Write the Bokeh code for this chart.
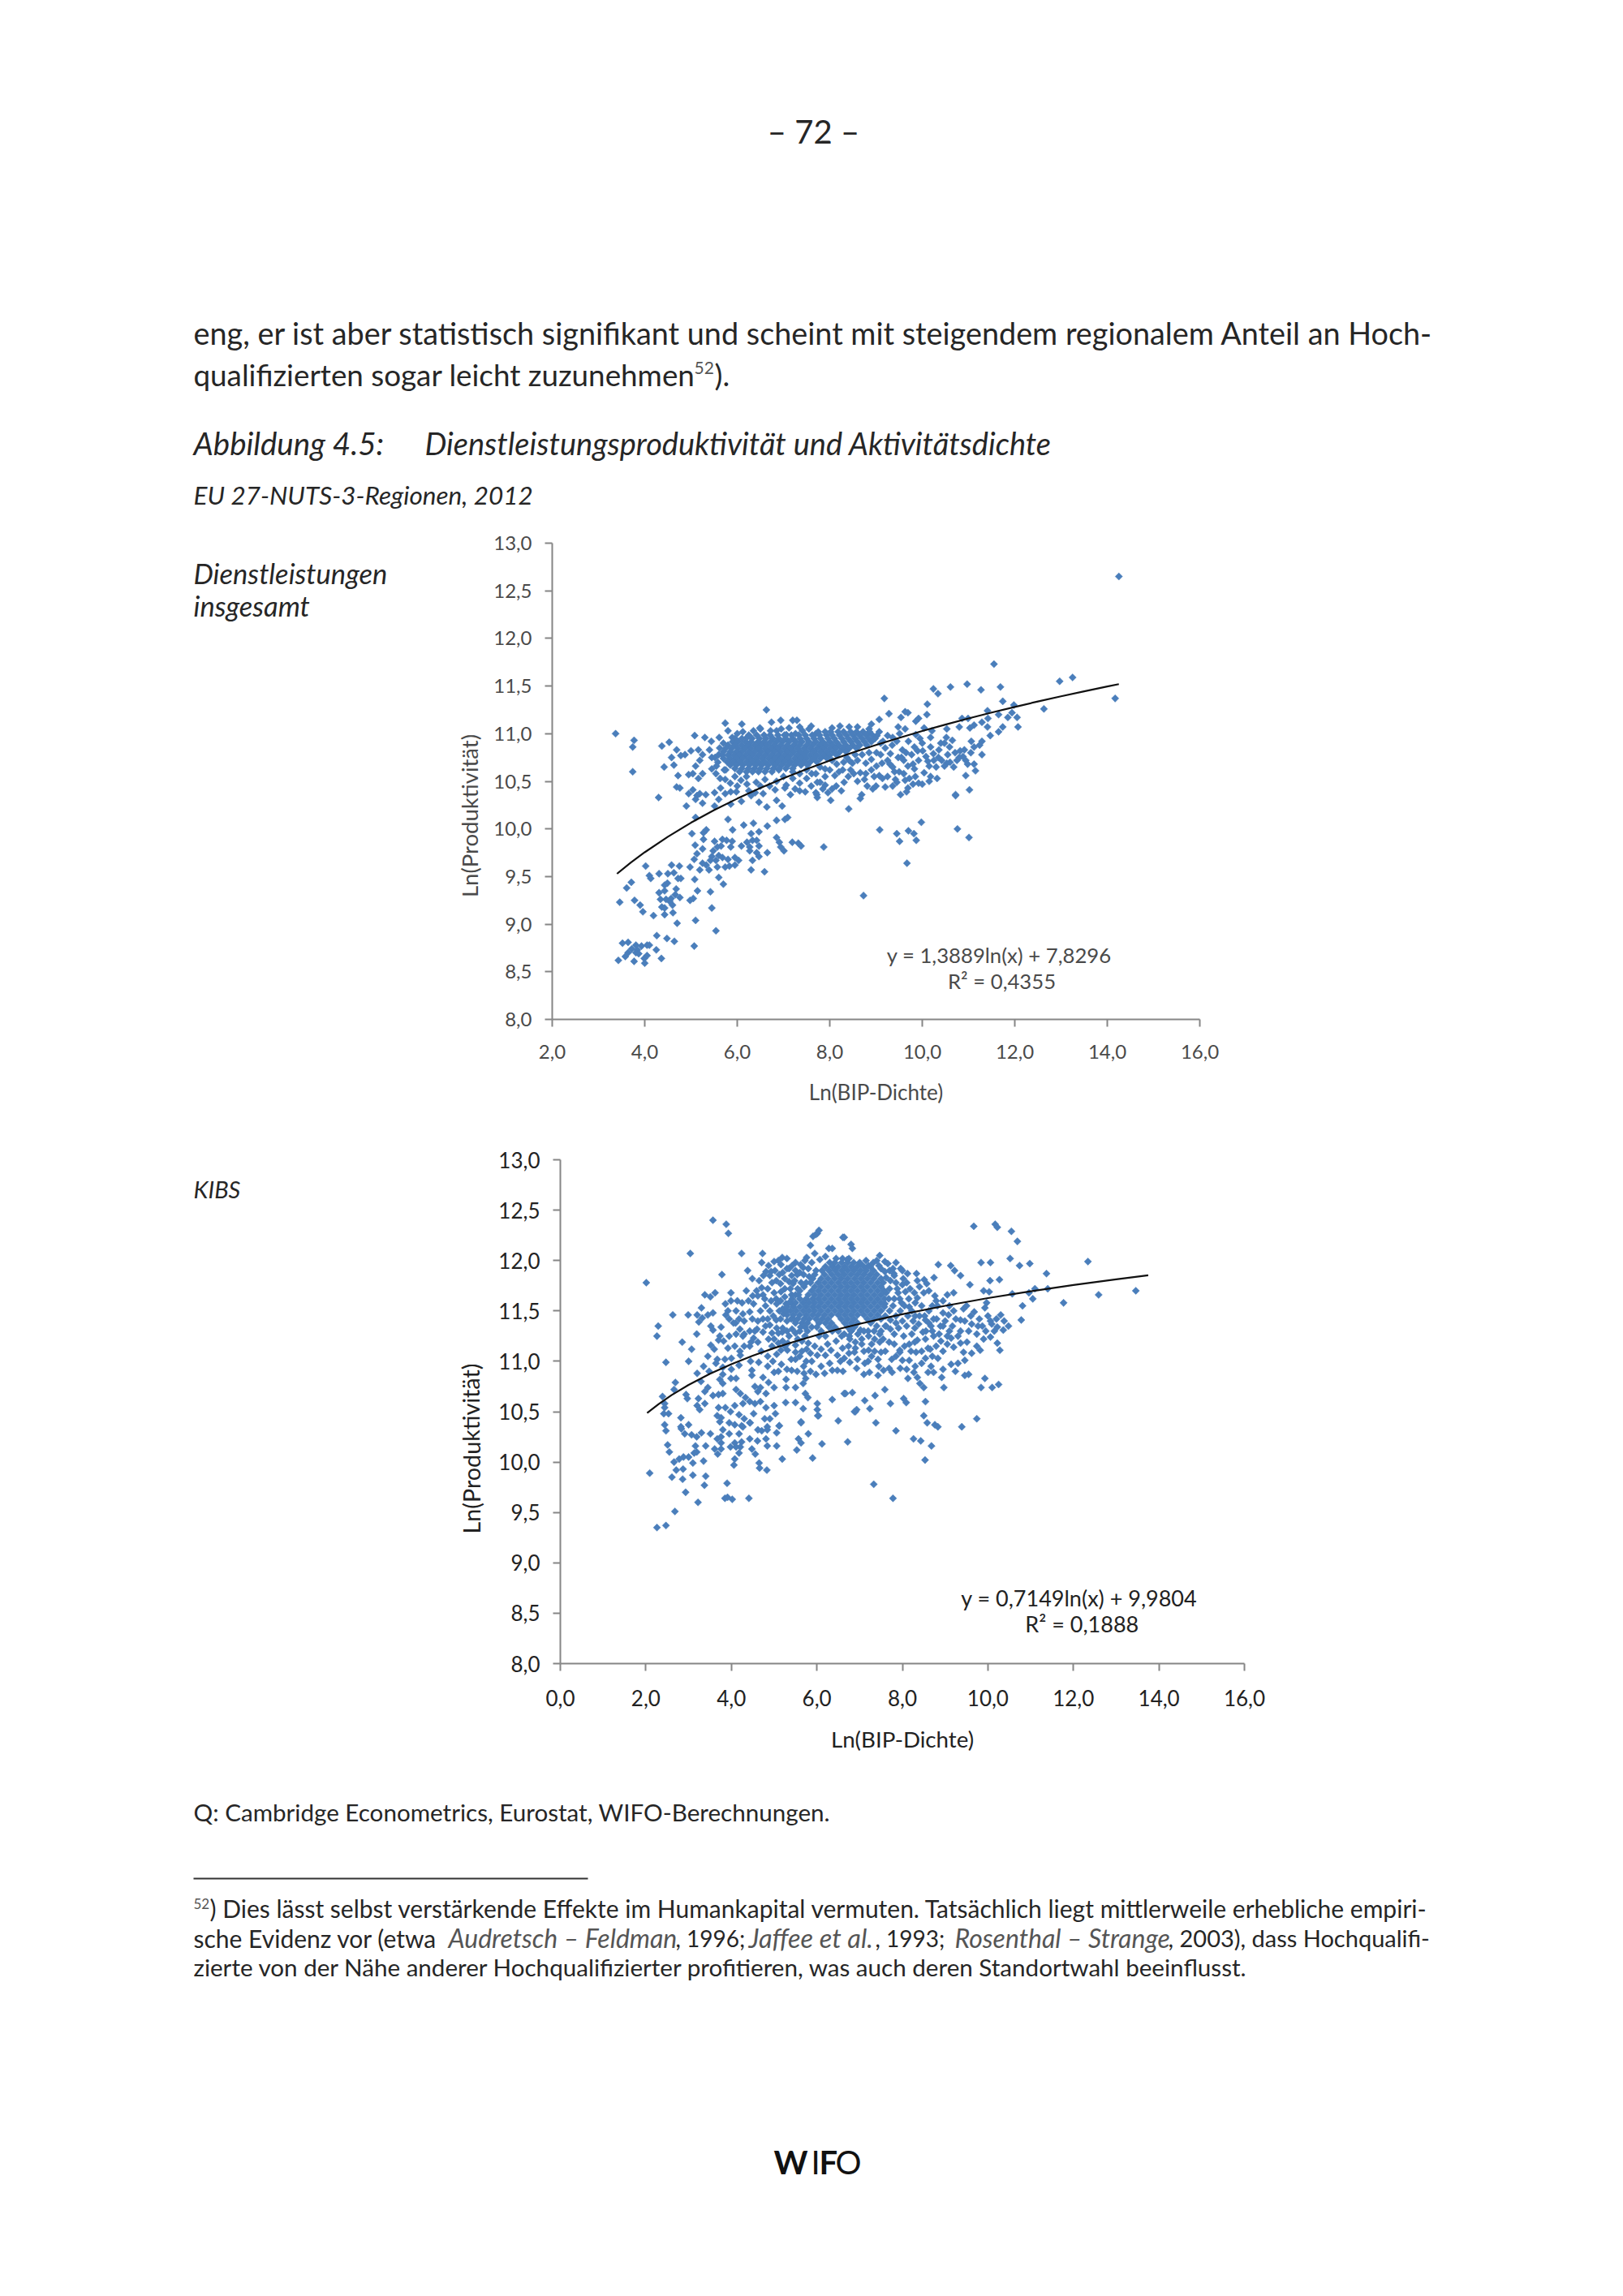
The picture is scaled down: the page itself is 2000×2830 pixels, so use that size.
from bokeh.plotting import figure
from bokeh.layouts import column, row
from bokeh.models import Range1d, FixedTicker
from bokeh.core.properties import value
from bokeh.embed import file_html
from bokeh.resources import INLINE

# ---------- data: upper chart (Dienstleistungen insgesamt) ----------
c1_far = [(14.25,12.65),(14.17,11.37),(13.25,11.59),(12.97,11.55),(12.63,11.26),(11.55,11.73),(11.98,11.3),(11.27,11.46),(10.97,11.52),(10.61,11.49),(10.24,11.47),(10.34,11.42),(10.11,11.31),(9.18,11.37),(11.02,10.41),(10.72,10.35),(10.76,10.0),(11.01,9.91),(9.98,10.07),(9.7,9.98),(9.08,9.99),(9.45,9.95),(9.51,9.87),(9.82,9.95),(9.87,9.88),(9.67,9.64),(8.73,9.3)]
c1_right = [(9.28,11.21),(9.07,11.15),(9.63,11.23),(9.54,11.17),(9.69,11.22),(9.92,11.16),(9.86,11.13),(10.1,11.2),(11.69,11.49),(11.74,11.34),(11.41,11.24),(11.65,11.2),(11.42,11.16),(11.85,11.17),(12.05,11.17),(11.94,11.22),(12.07,11.07),(11.74,11.07),(11.65,11.02),(11.41,11.07),(11.47,10.98),(11.29,11.12),(11.12,11.09),(11.03,11.06),(10.86,11.16),(10.99,11.16),(10.8,11.07),(10.53,11.05),(10.52,10.96),(10.04,11.06),(10.21,11.03),(10.18,10.96),(9.63,11.05),(9.48,11.07),(9.51,11.0),(9.25,10.98),(9.36,10.96),(9.86,10.99),(9.95,10.95),(11.29,10.92),(11.24,10.88),(11.06,10.92),(11.12,10.86),(11.29,10.78),(10.91,10.83),(10.94,10.72),(10.8,10.75),(10.65,10.93),(10.59,10.86),(10.71,10.8),(10.48,10.9),(10.53,10.69),(10.42,10.72),(10.3,10.65),(10.48,10.66),(10.36,10.83),(10.18,10.86),(10.24,10.79),(10.12,10.71),(10.01,10.82),(10.04,10.59),(9.83,10.86),(9.77,10.78),(9.92,10.72),(9.83,10.63),(9.69,10.66),(9.57,10.83),(9.48,10.75),(9.36,10.65),(9.6,10.72),(9.31,10.79),(9.13,10.69),(9.01,10.66),(9.25,10.72),(9.01,10.8),(8.9,10.73),(8.78,10.69),(8.6,10.72),(8.49,10.69),(8.37,10.75),(8.66,10.59),(8.52,10.58),(8.28,10.62),(9.07,10.56),(8.96,10.55),(9.14,10.53),(8.78,10.58),(8.75,10.52),(8.81,10.45),(8.11,10.56),(8.31,10.49),(7.9,10.63),(7.79,10.65),(7.61,10.58),(7.79,10.49),(7.9,10.46),(8.14,10.45),(8.05,10.42),(7.96,10.38),(7.7,10.38),(7.73,10.33),(8.02,10.3),(8.41,10.21),(8.69,10.36),(8.66,10.32),(8.93,10.42),(9.2,10.44),(9.36,10.45),(9.45,10.49),(9.42,10.52),(9.53,10.36),(9.69,10.43),(9.66,10.39),(9.72,10.53),(9.63,10.51),(9.8,10.47),(9.92,10.48),(10.18,10.55),(10.32,10.53),(10.94,10.56),(11.15,10.61),(11.12,10.68),(10.72,10.36)]
c1_extra = [(9.1,10.78),(9.2,10.85),(9.15,10.92),(9.35,10.88),(9.45,10.92),(9.55,10.75),(9.65,10.8),(9.7,10.92),(9.8,10.68),(9.9,10.82),(10.0,10.9),(10.08,10.76),(10.15,10.66),(10.25,10.72),(10.35,10.75),(10.4,10.9),(10.55,10.78),(10.6,10.7),(10.68,10.65),(10.75,10.72),(10.82,10.82),(10.88,10.76),(10.98,10.68),(11.05,10.8),(9.3,10.68),(9.4,10.6),(9.5,10.6),(9.25,10.55),(9.6,10.58),(9.85,10.55),(10.15,10.5),(10.0,10.47),(8.9,10.62),(8.7,10.78),(8.85,10.8),(8.55,10.78),(8.42,10.72),(8.3,10.7),(8.15,10.68),(8.05,10.72),(8.2,10.6),(8.4,10.55),(8.6,10.5),(8.45,10.62),(8.0,10.62),(7.9,10.55),(7.7,10.58),(7.5,10.62),(7.35,10.58),(7.2,10.6),(7.0,10.55),(6.85,10.5),(6.6,10.52),(6.9,10.62),(6.2,10.55),(6.0,10.45),(5.95,10.55),(5.85,10.48),(5.75,10.62),(6.3,10.35),(6.5,10.45),(6.7,10.45),(6.25,10.4),(7.25,10.42),(7.6,10.45),(7.85,10.42),(8.25,10.4),(9.0,10.45)]
c1_left = [(3.37,11.0),(3.77,10.93),(3.74,10.86),(3.74,10.6),(4.37,10.87),(4.53,10.91),(4.42,10.65),(4.3,10.33),(4.69,10.83),(4.58,10.75),(4.78,10.77),(4.87,10.78),(5.0,10.82),(4.63,10.67),(4.72,10.56),(5.08,10.98),(5.3,10.96),(5.44,10.92),(5.4,10.83),(5.16,10.83),(5.25,10.78),(5.19,10.72),(5.1,10.66),(5.45,10.75),(5.52,10.75),(4.95,10.57),(5.04,10.58),(5.16,10.53),(5.25,10.58),(5.45,10.63),(5.54,10.58),(5.63,10.53),(5.74,10.52),(4.69,10.44),(4.76,10.43),(4.95,10.37),(5.04,10.41),(5.13,10.35),(5.19,10.37),(5.25,10.27),(5.32,10.36),(5.51,10.38),(5.64,10.43),(5.1,10.31),(4.9,10.24),(5.51,10.24),(5.6,10.31),(5.74,10.37),(5.86,10.39),(5.98,10.39),(6.09,10.29),(5.86,10.26),(6.08,10.51),(6.21,10.47),(6.41,10.49),(6.39,10.38),(6.56,10.37),(6.47,10.28),(6.64,10.23),(6.82,10.41),(6.85,10.3),(6.97,10.24),(7.03,10.43),(7.15,10.36),(7.06,10.46),(7.35,10.4),(7.47,10.39),(7.73,10.49),(7.72,10.36),(7.5,10.53),(7.2,10.53),(7.35,10.48),(7.03,10.1),(5.8,10.1)]
c1_top = [(6.63,11.25),(5.74,11.11),(6.1,11.1),(6.49,11.06),(6.74,11.12),(6.94,11.14),(7.2,11.14),(7.29,11.14),(7.6,11.08),(5.8,11.03),(5.89,10.96),(5.61,10.96),(6.21,10.96),(6.5,11.05),(6.72,11.03),(6.85,11.03),(7.06,10.99),(7.41,11.03),(7.26,11.0),(7.7,11.0),(8.42,11.07),(8.05,11.06),(8.22,11.08),(8.6,11.07),(8.85,11.05),(9.07,11.02),(5.6,10.78),(5.58,10.7),(5.62,10.85),(5.72,10.62),(5.55,10.66),(5.7,10.9),(6.0,11.0),(6.12,11.02),(6.35,11.03),(6.95,11.05),(7.12,11.06),(7.55,11.05),(7.35,11.07),(8.9,11.1),(9.02,10.98),(9.1,10.9)]
c1_low_a = [(5.1,10.12),(6.14,10.04),(6.35,10.06),(6.65,10.03),(6.85,10.09),(7.09,10.12),(5.9,9.99),(6.47,9.97),(6.3,9.95),(5.02,9.95),(5.33,9.99),(5.27,9.96),(5.27,9.89),(5.09,9.83),(5.25,9.79),(5.13,9.74),(5.07,9.68),(4.98,9.6),(5.51,9.87),(5.57,9.81),(5.68,9.89),(5.77,9.88),(5.89,9.87),(5.65,9.82),(5.86,9.81),(5.45,9.71),(5.42,9.67),(5.33,9.62),(5.25,9.64),(5.19,9.57),(5.39,9.57),(5.57,9.6),(5.74,9.6),(5.83,9.61),(5.95,9.62),(6.03,9.67),(5.95,9.7),(5.8,9.68),(5.68,9.7),(5.6,9.72),(5.54,9.67),(5.48,9.77),(6.09,9.82),(6.21,9.86),(6.33,9.88),(6.42,9.88),(6.47,9.82),(6.42,9.75),(6.47,9.71),(6.27,9.81),(6.27,9.77),(6.65,9.75),(6.33,9.67),(6.3,9.57),(6.59,9.55),(6.85,9.91),(6.91,9.86),(6.94,9.81),(7.01,9.77),(7.19,9.86),(7.32,9.85),(7.38,9.82),(7.87,9.81)]
c1_low_b = [(4.02,9.61),(4.31,9.53),(4.1,9.51),(4.13,9.48),(3.71,9.44),(3.61,9.38),(3.46,9.23),(3.78,9.25),(3.9,9.2),(3.96,9.13),(4.19,9.09),(4.58,9.62),(4.75,9.61),(4.63,9.54),(4.5,9.53),(4.72,9.48),(4.78,9.48),(4.49,9.43),(4.43,9.41),(4.31,9.33),(4.43,9.35),(4.68,9.37),(4.34,9.26),(4.46,9.26),(4.57,9.27),(4.66,9.31),(4.76,9.28),(4.54,9.24),(4.37,9.18),(4.43,9.17),(4.6,9.2),(4.43,9.1),(4.61,9.12),(4.7,9.01),(5.08,9.47),(5.14,9.35),(5.42,9.34),(5.6,9.49),(5.7,9.42),(4.98,9.25),(5.05,9.27),(5.45,9.17),(5.1,9.04),(5.54,8.93),(5.07,8.77),(4.26,8.88),(4.48,8.85),(4.64,8.82)]
c1_low_c = [(3.52,8.8),(3.64,8.81),(3.81,8.78),(3.93,8.77),(4.05,8.78),(4.1,8.78),(3.72,8.74),(3.84,8.73),(3.64,8.7),(3.81,8.7),(3.87,8.69),(3.58,8.66),(3.43,8.62),(3.77,8.61),(3.99,8.64),(4.05,8.67),(4.0,8.59),(4.25,8.73),(4.36,8.64)]
c1_dense_y = [11.02,10.985,10.95,10.915,10.88,10.845,10.81,10.775,10.74,10.705,10.67,10.635,10.6]
c1_dense_x = [
 [7.75,7.9,8.02,8.18,8.3,8.45,8.58,8.72,8.86],
 [6.25,6.42,6.58,6.71,6.88,7.02,7.17,7.33,7.47,7.62,7.78,7.93,8.05,8.21,8.36,8.5,8.64,8.79,8.92],
 [5.95,6.1,6.32,6.48,6.62,6.77,6.9,7.05,7.2,7.36,7.5,7.66,7.8,7.96,8.1,8.26,8.4,8.55,8.7,8.84,8.98],
 [5.9,6.02,6.18,6.3,6.45,6.58,6.72,6.85,6.98,7.12,7.27,7.4,7.55,7.7,7.85,8.0,8.14,8.3,8.46,8.6,8.75,8.9],
 [5.8,5.95,6.1,6.24,6.38,6.52,6.65,6.8,6.94,7.08,7.22,7.35,7.5,7.63,7.78,7.92,8.06,8.2,8.35,8.5,8.65,8.8],
 [5.75,5.88,6.02,6.17,6.3,6.45,6.6,6.73,6.87,7.02,7.15,7.3,7.44,7.58,7.72,7.85,8.0,8.13,8.28,8.42,8.58],
 [5.7,5.85,5.98,6.1,6.25,6.38,6.52,6.66,6.8,6.94,7.08,7.22,7.36,7.5,7.65,7.8,7.93,8.08,8.22,8.35],
 [5.68,5.8,5.93,6.05,6.18,6.32,6.46,6.6,6.74,6.88,7.02,7.15,7.3,7.43,7.58,7.72,7.87,8.0,8.15],
 [5.7,5.85,5.98,6.12,6.26,6.4,6.54,6.68,6.81,6.95,7.09,7.24,7.37,7.5,7.65,7.8,7.94],
 [5.78,5.92,6.05,6.2,6.33,6.46,6.6,6.75,6.88,7.02,7.16,7.3,7.44,7.58,7.72],
 [5.85,5.98,6.12,6.26,6.4,6.53,6.67,6.82,6.96,7.1,7.24,7.38,7.52],
 [5.95,6.1,6.24,6.37,6.5,6.64,6.78,6.9,7.05,7.2],
 [6.05,6.2,6.33,6.46,6.6,6.75],
]
c1_trend_x = [3.4,3.7,4,4.5,5,5.5,6,6.5,7,7.5,8,8.5,9,9.5,10,10.5,11,11.5,12,12.5,13,13.5,14,14.25]
c1_trend_y = [9.529,9.647,9.755,9.918,10.065,10.197,10.318,10.429,10.532,10.628,10.718,10.802,10.881,10.956,11.028,11.095,11.16,11.222,11.281,11.338,11.392,11.445,11.495,11.52]

# ---------- data: lower chart (KIBS) ----------
c2_upper_left = [(3.57,12.4),(3.88,12.36),(3.93,12.27),(3.04,12.07),(4.24,12.07),(3.78,11.86),(2.01,11.78),(4.73,12.07),(4.71,11.98),(4.38,11.9),(4.49,11.82),(3.99,11.68),(3.38,11.66),(3.51,11.64),(3.62,11.68),(3.3,11.53),(2.63,11.46),(2.99,11.46),(3.2,11.46),(3.57,11.48),(3.45,11.46),(3.32,11.43),(3.24,11.39),(2.29,11.35),(2.26,11.25),(2.85,11.19),(3.19,11.27),(3.07,11.12),(3.52,11.16),(3.0,11.0),(2.47,10.99),(3.52,11.35),(3.57,11.31),(3.76,11.34),(3.73,11.25),(3.7,11.21),(3.48,10.9),(3.67,11.02),(3.64,10.98),(3.8,10.94),(4.0,11.03),(3.92,11.13),(4.08,11.15),(4.11,11.27),(4.21,11.06),(4.18,10.96),(4.45,11.0),(4.64,10.99)]
c2_mid_left = [(3.86,11.57),(3.92,11.5),(3.87,11.46),(3.95,11.42),(4.05,11.38),(4.14,11.6),(4.11,11.5),(4.27,11.47),(4.3,11.4),(4.18,11.42),(3.99,11.6),(4.43,11.49),(4.52,11.57),(4.68,11.5),(4.49,11.42),(4.62,11.4),(4.74,11.42),(4.59,11.7),(4.71,11.73),(4.65,11.8),(4.62,11.65),(4.74,11.66),(5.0,11.68),(4.93,11.6),(5.06,11.57),(5.12,11.5),(4.87,11.95),(5.0,11.99),(5.19,12.03),(5.16,11.96),(4.93,11.89),(4.81,11.89),(5.12,11.86),(5.35,11.92),(5.25,11.82),(5.41,11.85),(5.62,11.96),(5.76,12.03),(5.95,12.07),(6.07,12.01),(6.2,12.04),(6.28,12.12),(6.36,12.12),(5.85,12.15),(5.91,12.24),(6.01,12.27),(6.05,12.3),(5.98,12.26),(6.61,12.23),(5.98,11.9),(5.54,11.86),(5.69,11.86),(5.82,11.84),(5.44,11.77),(5.63,11.78),(5.25,11.72),(5.41,11.66),(5.16,11.69),(5.25,11.64),(5.57,11.66),(5.28,11.57)]
c2_below = [(4.74,11.29),(4.43,11.3),(4.3,11.27),(4.52,11.23),(4.27,11.25),(4.43,11.15),(4.62,11.19),(4.46,11.19),(5.06,11.33),(5.19,11.29),(5.0,11.22),(5.35,11.25),(4.87,11.22),(5.06,11.07),(5.16,11.11),(4.97,11.0),(5.17,10.97),(5.31,11.11),(5.5,11.09),(5.5,11.02),(5.41,10.91),(5.54,10.9),(5.69,10.95),(5.88,11.0),(6.01,11.06),(5.95,11.15),(5.76,11.12),(6.2,11.06),(6.33,11.11),(6.48,11.06),(5.98,10.87),(6.18,10.88),(6.36,10.91),(6.48,10.91),(6.61,10.9),(5.0,10.89),(4.48,10.91),(4.48,10.86),(4.74,10.84),(4.87,10.79),(5.0,10.74),(5.28,10.82),(5.28,10.74),(5.5,10.74),(5.68,10.78),(5.74,10.83),(5.73,10.68),(5.79,10.64),(5.5,10.59),(5.27,10.59),(5.68,10.53),(6.01,10.58),(6.01,10.52),(6.04,10.46),(6.36,10.62),(6.5,10.41),(5.63,10.4),(6.64,10.68)]
c2_halo_left = [(4.8,11.55),(4.9,11.5),(4.98,11.45),(5.05,11.41),(5.15,11.42),(5.22,11.47),(5.3,11.4),(5.05,11.62),(5.15,11.6),(5.2,11.52),(5.3,11.5),(4.85,11.72),(4.95,11.78),(5.05,11.8),(5.15,11.77),(4.9,11.85),(5.02,11.9),(5.2,11.88),(5.3,11.92),(5.38,11.72),(5.48,11.8),(5.55,11.72),(5.68,11.93),(5.8,11.92),(5.88,11.98),(5.75,11.78),(5.5,11.98),(5.35,11.79),(4.8,11.35),(4.9,11.36),(5.2,11.33),(5.3,11.3),(5.42,11.32),(5.5,11.28),(5.55,11.22),(5.65,11.2),(5.8,11.18),(5.2,11.2),(5.32,11.18),(5.5,11.16),(5.65,11.1),(4.6,11.32),(4.55,11.3),(4.7,11.1),(4.85,11.05),(4.95,11.15),(5.1,11.18),(5.25,11.15),(5.4,11.02),(5.6,11.05),(5.75,11.0),(5.85,11.08),(6.1,11.12),(6.25,11.17),(6.45,11.2),(6.6,11.13),(4.85,10.95),(5.1,10.9),(5.3,10.92),(5.7,10.88),(5.85,10.9),(6.1,10.95),(6.3,10.98),(6.55,11.0),(4.2,11.1),(4.3,11.15),(3.85,11.02),(4.0,10.92)]
c2_halo_right = [(7.6,11.45),(7.7,11.5),(7.78,11.55),(7.85,11.45),(7.95,11.5),(8.05,11.55),(8.15,11.62),(8.22,11.5),(7.62,11.68),(7.7,11.72),(7.72,11.8),(7.68,11.62),(7.85,11.78),(7.9,11.68),(8.02,11.82),(8.1,11.78),(7.55,11.78),(7.62,11.83),(7.7,11.9),(7.85,11.98),(7.4,12.0),(7.32,11.98),(7.15,12.0),(7.6,11.35),(7.72,11.32),(7.85,11.38),(8.0,11.4),(8.1,11.35),(8.25,11.4),(8.4,11.45),(8.45,11.55),(8.62,11.5),(8.7,11.55),(8.55,11.3),(8.7,11.3),(8.8,11.42),(8.95,11.35),(9.1,11.3),(8.9,11.2),(7.4,11.35),(7.5,11.3),(7.55,11.22),(7.35,11.22),(7.2,11.3),(7.05,11.22),(6.9,11.13),(7.1,11.1),(7.35,11.1),(7.6,11.1),(7.85,11.05),(8.05,11.15),(8.2,11.1),(8.45,11.1),(8.6,11.13),(8.7,11.05),(8.95,11.1)]
c2_halo_extra = [(4.4,11.6),(4.5,11.65),(4.35,11.7),(4.25,11.58),(4.2,11.32),(4.1,11.38),(3.95,11.25),(3.82,11.2),(3.6,11.12),(3.45,11.05),(4.75,11.85),(4.78,11.62),(4.85,11.42),(5.1,12.0),(5.3,12.02),(5.42,11.95),(5.5,11.9),(5.72,12.0),(5.6,11.88),(5.4,11.58),(5.45,11.42),(5.62,11.34),(5.1,11.28),(4.95,11.28),(7.5,11.92),(7.66,11.97),(7.8,11.87),(7.96,11.92),(8.12,11.87),(8.18,11.72),(8.28,11.68),(8.35,11.8),(8.5,11.68),(8.62,11.7),(7.98,11.58),(8.3,11.45),(8.52,11.45),(8.62,11.38),(8.82,11.55),(8.95,11.6),(9.1,11.55),(9.0,11.4),(9.25,11.42),(9.3,11.25),(9.2,11.5),(9.55,11.3),(9.6,11.45),(9.5,11.55),(9.8,11.42),(9.95,11.3),(10.0,11.45),(10.15,11.3),(10.2,11.42),(9.62,11.08),(9.9,11.22),(8.45,10.98),(8.65,11.12),(8.3,10.95),(7.95,10.93),(8.1,10.92),(7.75,11.02),(7.45,10.95),(7.2,11.0),(6.95,11.02),(6.75,11.08),(3.2,10.88),(3.35,10.95)]
c2_low_a = [(2.69,10.79),(2.66,10.72),(2.39,10.65),(2.44,10.58),(2.44,10.54),(2.53,10.48),(2.42,10.48),(2.82,10.44),(2.44,10.37),(3.0,10.37),(2.82,10.35),(2.94,10.67),(2.97,10.63),(3.29,10.8),(3.45,10.74),(3.38,10.7),(3.8,10.87),(3.73,10.82),(3.8,10.78),(3.99,10.83),(4.11,10.83),(4.11,10.72),(4.21,10.68),(4.55,10.75),(4.68,10.74),(4.62,10.7),(4.81,10.68),(3.57,10.66),(3.7,10.67),(3.8,10.68),(3.23,10.63),(3.2,10.56),(3.38,10.58),(3.26,10.52),(3.7,10.54),(3.86,10.54),(3.76,10.44),(3.98,10.5),(4.08,10.56),(4.27,10.58),(4.18,10.47),(4.33,10.64),(4.43,10.6),(4.55,10.58),(4.68,10.6),(4.81,10.54),(4.52,10.48),(5.0,10.56),(5.03,10.48),(4.9,10.43),(4.78,10.43),(4.3,10.43),(4.43,10.39),(3.95,10.39),(4.08,10.37),(4.24,10.36),(5.12,10.36),(4.84,10.35)]
c2_low_b = [(2.47,10.31),(2.83,10.33),(2.91,10.28),(3.07,10.27),(3.19,10.25),(3.3,10.29),(3.51,10.28),(2.51,10.17),(2.55,10.1),(3.4,10.16),(3.16,10.16),(3.19,10.1),(3.13,10.09),(3.0,10.05),(2.88,10.05),(2.78,10.03),(2.66,10.0),(3.1,9.99),(3.35,10.01),(2.71,9.92),(2.87,9.93),(2.61,9.85),(2.86,9.83),(3.1,9.87),(3.4,9.86),(3.37,9.77),(2.09,9.89),(2.93,9.7),(3.22,9.6),(2.68,9.51),(2.47,9.37),(2.26,9.35),(3.9,9.79),(3.85,9.64),(3.91,9.65),(4.02,9.63),(4.41,9.64)]
c2_low_c = [(3.67,10.46),(3.73,10.4),(4.27,10.35),(3.8,10.32),(3.95,10.28),(4.18,10.28),(3.76,10.25),(3.67,10.23),(3.76,10.19),(3.61,10.13),(3.76,10.13),(3.68,10.08),(3.98,10.15),(4.08,10.19),(4.24,10.2),(4.11,10.15),(4.21,10.15),(4.18,10.09),(4.08,10.03),(4.06,9.97),(4.44,10.39),(4.62,10.32),(4.84,10.32),(4.71,10.31),(5.06,10.29),(5.12,10.36),(4.81,10.23),(4.43,10.23),(4.61,10.21),(4.84,10.16),(5.06,10.16),(4.48,10.13),(4.56,10.08),(4.65,9.99),(4.66,9.94),(4.83,9.92),(5.19,10.03),(5.63,10.39),(6.02,10.46),(5.8,10.28),(5.57,10.23),(5.63,10.19),(5.53,10.12),(6.12,10.18),(5.9,10.04)]
c2_low_right = [(6.9,10.5),(7.38,10.39),(7.85,10.31),(6.72,10.2),(8.26,10.23),(8.43,10.21),(8.68,10.16),(8.53,10.02),(8.5,10.46),(8.58,10.39),(8.76,10.37),(8.83,10.35),(9.39,10.35),(9.74,10.43),(7.33,9.78),(7.78,9.64)]
c2_right_top = [(9.67,12.34),(10.17,12.36),(10.22,12.33),(10.55,12.29),(10.69,12.19),(10.52,12.02),(10.74,11.95),(10.98,11.97),(9.84,11.98),(10.06,11.98),(8.84,11.96),(9.13,11.95),(9.22,11.9),(9.36,11.85),(8.33,11.87),(8.74,11.83),(8.51,11.81),(9.58,11.76),(10.05,11.8),(10.27,11.81),(11.1,11.72),(10.96,11.68),(10.57,11.67),(11.05,11.62),(10.81,11.55),(10.78,11.41),(9.9,11.7),(10.03,11.69),(9.97,11.58),(9.2,11.68),(9.05,11.66),(8.76,11.65),(8.79,11.6),(8.35,11.63),(8.3,11.58),(8.4,11.74),(8.57,11.77),(8.0,11.9),(7.78,11.92),(7.81,11.85),(7.59,11.89),(7.47,12.05),(7.59,11.99),(7.45,11.95),(7.21,11.95),(7.02,11.97),(6.83,12.12),(6.8,12.16),(6.64,12.23),(6.71,12.01),(8.0,11.76),(8.07,11.69),(7.88,11.72),(7.94,11.62),(8.16,11.54),(7.81,11.62),(7.59,11.57)]
c2_right_mid = [(8.95,11.48),(9.08,11.46),(9.43,11.52),(9.68,11.49),(9.93,11.53),(9.36,11.41),(9.46,11.4),(8.73,11.42),(8.89,11.35),(9.17,11.35),(9.62,11.37),(9.77,11.35),(9.36,11.3),(9.74,11.27),(9.87,11.35),(10.06,11.4),(10.09,11.37),(10.3,11.46),(10.22,11.34),(10.38,11.4),(10.36,11.31),(10.48,11.35),(10.06,11.24),(10.22,11.18),(10.28,11.11),(9.74,11.15),(9.82,11.11),(9.51,11.19),(9.36,11.18),(9.43,11.09),(9.46,11.01),(9.2,11.14),(9.05,11.17),(8.79,11.15),(9.14,11.23),(8.83,11.03),(8.54,11.03),(8.32,11.09),(8.16,11.01),(8.0,11.01),(7.94,11.09),(8.67,10.95),(8.6,10.89),(8.73,10.89),(8.92,10.84),(8.95,10.92),(9.14,10.97),(9.3,10.98),(9.24,10.9),(9.46,10.86),(9.55,10.87),(8.97,10.74),(8.27,10.89),(8.13,10.83),(8.35,10.84),(8.41,10.78),(8.5,10.74),(9.84,10.74),(9.93,10.83),(10.1,10.74),(10.25,10.77)]
c2_center_low = [(7.59,10.72),(7.36,10.66),(6.83,10.69),(6.67,10.68),(7.12,10.61),(7.24,10.53),(7.72,10.58),(8.03,10.63),(8.09,10.59),(8.54,10.6),(6.93,10.52),(6.88,10.5),(7.76,10.89),(7.69,10.93),(7.56,10.91),(7.43,10.86),(7.23,10.89),(7.1,10.87),(6.93,10.93),(7.12,10.98),(6.77,10.99),(6.64,11.03),(7.43,11.02),(7.28,11.05),(7.5,11.09),(7.21,11.11),(6.88,11.09),(6.74,11.15),(7.05,11.17),(6.77,11.22),(6.96,11.27),(7.21,11.25),(7.47,11.27),(7.69,11.19),(7.81,11.17),(7.94,11.11),(8.03,11.25),(8.29,11.33),(8.35,11.21),(8.54,11.22),(8.73,11.25),(8.86,11.27),(9.05,11.25),(8.16,11.17),(7.62,11.35),(7.91,11.33),(8.13,11.45),(8.54,11.41),(7.72,11.41),(8.38,11.37),(8.22,11.27),(7.81,11.27),(7.34,11.3),(7.02,11.31),(6.8,11.3),(6.64,11.27),(7.47,11.19),(7.28,11.17),(6.9,11.19),(8.67,11.35),(8.48,11.29),(8.29,11.19)]
c2_far = [(11.37,11.87),(11.4,11.72),(11.77,11.58),(12.34,11.99),(12.59,11.66),(13.46,11.7)]
c2_dense_y = [12.02,11.98,11.94,11.9,11.86,11.82,11.78,11.74,11.7,11.66,11.62,11.58,11.54,11.5,11.46,11.42,11.38,11.34,11.3,11.25]
c2_dense_x = [
 [6.45,6.6,6.75],
 [6.3,6.42,6.58,6.72,6.86,7.0],
 [6.2,6.36,6.5,6.65,6.8,6.94,7.1,7.25],
 [6.12,6.28,6.43,6.58,6.72,6.87,7.02,7.16,7.32],
 [5.95,6.18,6.35,6.5,6.64,6.8,6.95,7.1,7.25,7.4],
 [5.9,6.1,6.26,6.42,6.57,6.72,6.88,7.03,7.18,7.33,7.5],
 [5.85,6.03,6.18,6.34,6.5,6.65,6.8,6.95,7.1,7.26,7.42],
 [5.7,5.95,6.1,6.26,6.42,6.57,6.72,6.87,7.03,7.18,7.34,7.5],
 [5.6,5.88,6.03,6.18,6.34,6.5,6.65,6.8,6.95,7.1,7.26,7.42,7.57],
 [5.5,5.8,5.95,6.1,6.26,6.42,6.57,6.72,6.87,7.03,7.18,7.34,7.5],
 [5.42,5.6,5.75,5.9,6.03,6.18,6.34,6.5,6.65,6.8,6.95,7.1,7.26,7.42,7.58],
 [5.35,5.5,5.68,5.82,5.95,6.1,6.26,6.42,6.57,6.72,6.87,7.03,7.18,7.34,7.5],
 [5.3,5.45,5.6,5.75,5.9,6.03,6.18,6.34,6.5,6.65,6.8,6.95,7.1,7.26,7.42,7.58],
 [5.38,5.52,5.68,5.82,5.95,6.1,6.26,6.42,6.57,6.72,6.87,7.03,7.18,7.34,7.5],
 [5.3,5.45,5.6,5.75,5.9,6.03,6.18,6.34,6.5,6.65,6.8,6.95,7.1,7.26,7.42],
 [5.4,5.55,5.7,5.82,5.98,6.12,6.26,6.57,6.72,6.87,7.18,7.34,7.5],
 [5.5,5.65,5.78,6.05,6.2,6.34,6.65,6.8,6.95,7.26],
 [5.72,5.88,6.0,6.28,6.42,6.72,6.88],
 [5.6,5.78,6.1,6.36,6.5,6.8,7.1],
 [5.72,6.05,6.2,6.58,6.76],
]
c2_trend_x = [2.03,2.3,2.6,3,3.5,4,4.5,5,5.5,6,6.5,7,7.5,8,9,10,11,12,13,13.75]
c2_trend_y = [10.487,10.576,10.664,10.766,10.876,10.971,11.056,11.131,11.199,11.261,11.319,11.372,11.421,11.467,11.551,11.627,11.695,11.757,11.814,11.854]

y_ticks = [8,8.5,9,9.5,10,10.5,11,11.5,12,12.5,13]
y_tick_labels = ["8,0","8,5","9,0","9,5","10,0","10,5","11,0","11,5","12,0","12,5","13,0"]
c1_x_ticks = [2,4,6,8,10,12,14,16]
c1_x_tick_labels = ["2,0","4,0","6,0","8,0","10,0","12,0","14,0","16,0"]
c2_x_ticks = [0,2,4,6,8,10,12,14,16]
c2_x_tick_labels = ["0,0","2,0","4,0","6,0","8,0","10,0","12,0","14,0","16,0"]

FONT = "Lato"
INK = "#262626"
BLUE = "#4A7EBB"
C1_INK = "#4a4a4a"
C2_INK = "#222222"

def panel(width, height, x0, y_top, y_bottom, top_b=0, bottom_b=0):
    p = figure(width=width, height=height, x_range=Range1d(x0, x0 + width), y_range=Range1d(y_bottom, y_top),
               output_backend="svg", toolbar_location=None, min_border=0, min_border_top=top_b,
               min_border_bottom=bottom_b, outline_line_color=None)
    p.xaxis.visible = False
    p.yaxis.visible = False
    p.grid.visible = False
    return p

def put(p, x, y, s, size, style="normal", color=INK, align="left", angle=0):
    p.text([x], [y], text=[s], text_font=value(FONT), text_font_size=value(f"{size}px"), angle=angle,
           text_font_style=style, text_color=color, text_align=align, text_baseline="middle")

top = panel(1992, 640, 0, 0, 640)
put(top, 1002, 161, "– 72 –", 40, align="center")
put(top, 238, 410, "eng, er ist aber statistisch signifikant und scheint mit steigendem regionalem Anteil an Hoch-", 37.8)
put(top, 238, 461, "qualifizierten sogar leicht zuzunehmen", 36.8)
put(top, 855, 453, "52", 21, color="#555555")
put(top, 880, 461, ").", 37)
put(top, 238, 545, "Abbildung 4.5:", 38.5, "italic")
put(top, 523, 545, "Dienstleistungsproduktivität und Aktivitätsdichte", 38, "italic")
put(top, 238, 609, "EU 27-NUTS-3-Regionen, 2012", 31.5, "italic")

# the row lines up this panel's frame with the chart's frame, so its range spans the same page rows
left1 = panel(600, 760, 0, 669, 1256, 29, 144)
put(left1, 238, 706, "Dienstleistungen", 34.5, "italic")
put(left1, 238, 746, "insgesamt", 34.5, "italic")
put(left1, 578, 1005, "Ln(Produktivität)", 27.5, color=C1_INK, align="center", angle=1.5708)

left2 = panel(600, 800, 0, 1429, 2050, 29, 150)
put(left2, 238, 1465, "KIBS", 29, "italic")
put(left2, 580, 1785, "Ln(Produktivität)", 28.7, color=C2_INK, align="center", angle=1.5708)

bottom = panel(1992, 622, 0, 2200, 2822)
put(bottom, 238, 2233, "Q: Cambridge Econometrics, Eurostat, WIFO-Berechnungen.", 29.6)
bottom.line([238, 724], [2315, 2315], line_color="#333333", line_width=2)
put(bottom, 238, 2346, "52", 17, color="#555555")
put(bottom, 258, 2351, ") Dies lässt selbst verstärkende Effekte im Humankapital vermuten. Tatsächlich liegt mittlerweile erhebliche empiri-", 30)
put(bottom, 238, 2388, "sche Evidenz vor (etwa", 30)
put(bottom, 552, 2388, "Audretsch – Feldman", 32, "italic", "#555555")
put(bottom, 832, 2388, ", 1996;", 28)
put(bottom, 922, 2388, "Jaffee et al.", 32.5, "italic", "#555555")
put(bottom, 1078, 2388, ", 1993;", 28)
put(bottom, 1176, 2388, "Rosenthal – Strange", 32, "italic", "#555555")
put(bottom, 1439, 2388, ", 2003), dass Hochqualifi-", 29)
put(bottom, 238, 2424, "zierte von der Nähe anderer Hochqualifizierter profitieren, was auch deren Standortwahl beeinflusst.", 29.6)
put(bottom, 953, 2664, "W", 40, "bold", "#111111")
put(bottom, 999, 2664, "I", 40, color="#111111")
put(bottom, 1009, 2664, "F", 40, "bold", "#111111")
put(bottom, 1029, 2664, "O", 40, color="#111111")

def chart(width, height, left, right, top_b, bottom_b, xr, x_ticks, x_labels, groups, dense_y, dense_x,
          tx, ty, xlabel_size, tick_size, eq_size, color, standoff_x, label_standoff, eq, r2, eq_pos):
    p = figure(width=width, height=height, x_range=Range1d(*xr), y_range=Range1d(8, 13),
               output_backend="svg", toolbar_location=None, outline_line_color=None,
               min_border_left=left, min_border_right=right, min_border_top=top_b, min_border_bottom=bottom_b)
    p.grid.visible = False
    xs, ys = [], []
    for g in groups:
        xs += [a for a, b in g]
        ys += [b for a, b in g]
    for yv, row_x in zip(dense_y, dense_x):
        xs += row_x
        ys += [yv] * len(row_x)
    p.scatter(xs, ys, marker="square", angle=0.785398, size=6.4, fill_color=BLUE, line_color=BLUE, line_width=0.5)
    p.line(tx, ty, line_color="#111111", line_width=2.2)
    for ax, ticks, labels in ((p.xaxis[0], x_ticks, x_labels), (p.yaxis[0], y_ticks, y_tick_labels)):
        ax.ticker = FixedTicker(ticks=ticks)
        ax.major_label_overrides = dict(zip(ticks, labels))
        ax.minor_tick_line_color = None
        ax.major_tick_in = 0
        ax.major_tick_out = 9
        ax.axis_line_color = "#868686"
        ax.axis_line_width = 2
        ax.major_tick_line_color = "#868686"
        ax.major_tick_line_width = 2
        ax.major_label_text_font = FONT
        ax.major_label_text_font_size = f"{tick_size}px"
        ax.major_label_text_color = color
        ax.major_label_text_font_style = "normal"
    ax = p.xaxis[0]
    ax.axis_label = "Ln(BIP-Dichte)"
    ax.axis_label_text_font = FONT
    ax.axis_label_text_font_size = f"{xlabel_size}px"
    ax.axis_label_text_color = color
    ax.axis_label_text_font_style = "normal"
    ax.major_label_standoff = standoff_x
    ax.axis_label_standoff = label_standoff
    p.yaxis[0].major_label_standoff = 16
    p.text([eq_pos[0]], [eq_pos[1]], text=[eq], text_font=value(FONT), text_font_size=value(f"{eq_size}px"),
           text_color=color, text_align="center", text_baseline="middle")
    p.text([eq_pos[0]], [eq_pos[2]], text=[r2], text_font=value(FONT), text_font_size=value(f"{eq_size}px"),
           text_color=color, text_align="center", text_baseline="middle")
    return p

chart1 = chart(1392, 760, 80, 514, 29, 144, (2, 16), c1_x_ticks, c1_x_tick_labels,
               [c1_far, c1_right, c1_extra, c1_left, c1_top, c1_low_a, c1_low_b, c1_low_c], c1_dense_y, c1_dense_x,
               c1_trend_x, c1_trend_y, 26, 24, 25.7, C1_INK, 22, 22,
               "y = 1,3889ln(x)  + 7,8296", "R² = 0,4355", (11.72, 8.675, 8.405))
chart2 = chart(1392, 800, 90, 459, 29, 150, (0, 16), c2_x_ticks, c2_x_tick_labels,
               [c2_upper_left, c2_mid_left, c2_below, c2_halo_left, c2_halo_right, c2_halo_extra, c2_low_a, c2_low_b, c2_low_c, c2_low_right, c2_right_top, c2_right_mid, c2_center_low, c2_far],
               c2_dense_y, c2_dense_x, c2_trend_x, c2_trend_y, 27.7, 26, 27, C2_INK, 23, 21,
               "y = 0,7149ln(x)  + 9,9804", "R² = 0,1888", (12.2, 8.655, 8.395))

page = column(top, row(left1, chart1, spacing=0), row(left2, chart2, spacing=0), bottom, spacing=0)
open("out.html", "w").write(file_html(page, INLINE))
